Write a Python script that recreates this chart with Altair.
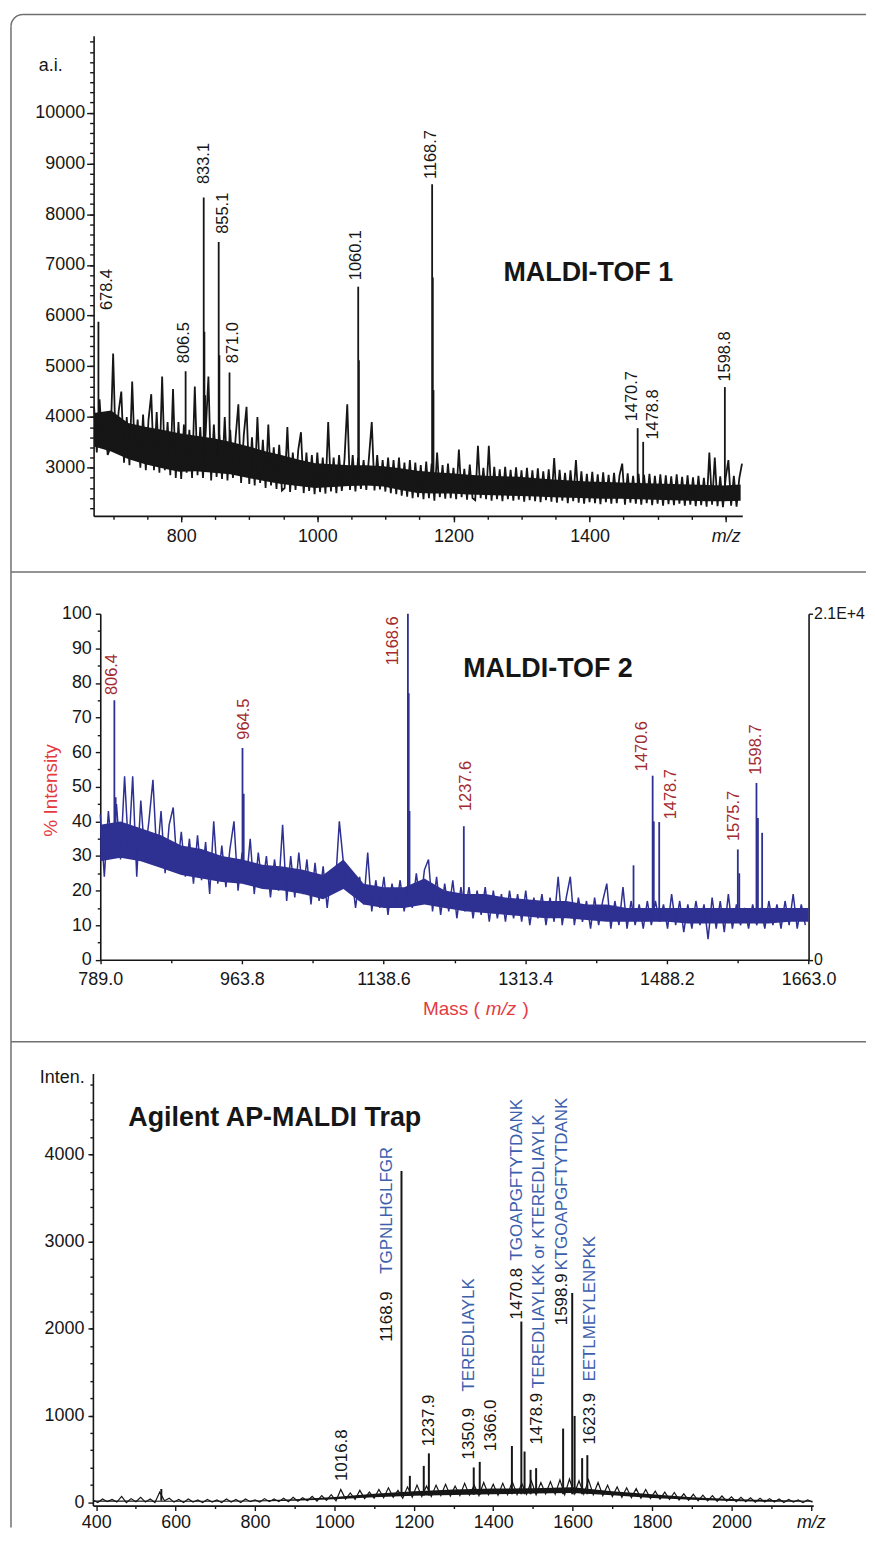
import altair as alt
import pandas as pd

SANS = "Liberation Sans, Arial, sans-serif"
INK = "#161616"
FRAME = "#707070"
NAVY = "#2e3192"
PEAK_RED = "#a32a2d"
TITLE_RED = "#e33b3f"
PEP_BLUE = "#3d60ad"

# ---------------- MALDI-TOF 1 ----------------
p1_mz_start = 672
p1_mz_step = 4
p1_noise = [
    4200, 3300, 4350, 3500, 3900, 3250, 3400, 5250, 3300, 4100,
    4500, 3100, 4000, 3050, 4700, 3150, 3950, 3000, 4050, 2950,
    3950, 4450, 2950, 4100, 2900, 4800, 2950, 3900, 2850, 4550,
    2800, 3900, 2780, 3850, 2900, 3750, 2800, 4600, 2850, 3800,
    2800, 3700, 4800, 2750, 3850, 2820, 3650, 2780, 4000, 2750,
    3750, 2800, 3600, 4250, 2700, 3650, 4200, 2680, 3600, 2650,
    4000, 2700, 3550, 2600, 3850, 2650, 3400, 2580, 3450, 2550,
    2600, 3800, 2520, 3300, 2560, 3350, 3700, 2500, 3300, 2540,
    3250, 2480, 3300, 2520, 3200, 2490, 3900, 2530, 3200, 2500,
    3250, 2540, 3180, 4250, 2560, 3250, 2530, 3200, 2580, 3150,
    2560, 3220, 3900, 2550, 3250, 2570, 3150, 2530, 3200, 2500,
    3150, 2480, 3200, 2450, 3100, 2430, 3150, 2400, 3100, 2420,
    3050, 2380, 3120, 2400, 3080, 2350, 3300, 2420, 3050, 2390,
    3080, 2400, 3000, 2380, 3360, 2420, 2980, 2370, 3060, 2400,
    2360, 3430, 2400, 3000, 2380, 3430, 2350, 3020, 2380, 2970,
    2340, 3020, 2380, 2960, 2350, 3010, 2370, 2950, 2330, 3000,
    2360, 2950, 2340, 2990, 2320, 2930, 2360, 2970, 2330, 3190,
    2310, 2960, 2350, 2900, 2300, 2950, 2340, 3150, 2310, 2930,
    2290, 2880, 2320, 2920, 2300, 2870, 2280, 2910, 2320, 2860,
    2290, 2900, 2300, 2850, 3080, 2270, 2890, 2310, 2840, 2290,
    2880, 2270, 2860, 2300, 2880, 2260, 2840, 2290, 2870, 2250,
    2850, 2280, 2830, 2260, 2870, 2290, 2820, 2250, 2850, 2270,
    2810, 2240, 2840, 2260, 2800, 2230, 3300, 2270, 3200, 2240,
    2830, 2220, 2800, 3150, 2250, 2840, 2230, 2790, 3080,
]
p1_core_mz = [672, 697, 722, 747, 772, 797, 822, 847, 872, 897, 922, 947, 972, 997,
              1022, 1047, 1072, 1097, 1122, 1147, 1172, 1197, 1222, 1247, 1272, 1297,
              1322, 1347, 1372, 1397, 1422, 1447, 1472, 1497, 1522, 1547, 1572, 1597, 1622]
p1_core_hi = [4080, 4130, 3880, 3810, 3750, 3680, 3630, 3580, 3510, 3430, 3330, 3250, 3160,
              3090, 3070, 3050, 3050, 3030, 2990, 2940, 2910, 2890, 2860, 2840, 2830, 2820,
              2790, 2770, 2750, 2730, 2720, 2710, 2700, 2690, 2680, 2670, 2660, 2650, 2670]
p1_core_lo = [3420, 3320, 3170, 3070, 2990, 2920, 2930, 2900, 2870, 2800, 2740, 2680, 2640,
              2600, 2620, 2640, 2650, 2630, 2560, 2500, 2490, 2490, 2470, 2460, 2450, 2440,
              2430, 2420, 2410, 2400, 2390, 2390, 2380, 2370, 2360, 2350, 2340, 2340, 2350]
p1_peak_mz = [678.4, 806.5, 833.1, 834.1, 835.1, 855.1, 856.1, 871.0,
              1060.1, 1061.1, 1168.7, 1169.7, 1170.7, 1470.7, 1478.8, 1598.8]
p1_peak_top = [5880, 4900, 8330, 5680, 4430, 7450, 5220, 4880,
               6570, 5120, 8590, 6750, 4530, 3780, 3510, 4590]
p1_peak_base = [3600, 3200, 3200, 3200, 3200, 3200, 3200, 3100,
                2800, 2800, 2700, 2700, 2700, 2550, 2550, 2500]
p1_label_text = ["678.4", "806.5", "833.1", "855.1", "871.0", "1060.1",
                 "1168.7", "1470.7", "1478.8", "1598.8"]
p1_label_mz = [690.3, 804.0, 833.3, 861.3, 876.0, 1057.5, 1167.2, 1462.3, 1493.0, 1598.7]
p1_label_at = [6108, 5061, 8595, 7613, 5061, 6697, 8693, 3915, 3556, 4700]
p1_x_domain = [671.3, 1624.4]
p1_y_domain = [2050, 11519]
p1_x_ticks = [800, 1000, 1200, 1400, 1600]
p1_x_minor = list(range(700, 1601, 50))
p1_y_ticks = list(range(3000, 10001, 1000))
p1_y_minor = list(range(2200, 11401, 200))

# ---------------- MALDI-TOF 2 ----------------
p2_mz_start = 789
p2_mz_step = 5
p2_noise = [
    42, 24, 43, 30, 45, 29, 53, 31, 53, 24,
    46, 30, 40, 52, 29, 43, 25, 39, 44, 26,
    37, 24, 35, 22, 36, 23, 34, 19, 40, 22,
    33, 21, 32, 40, 20, 31, 22, 35, 19, 31,
    21, 30, 18, 29, 20, 39, 17, 30, 18, 31,
    19, 29, 16, 28, 17, 27, 15, 26, 21, 40,
    28, 20, 25, 15, 24, 16, 31, 14, 23, 15,
    24, 13, 22, 15, 23, 14, 22, 15, 25, 16,
    26, 29, 14, 24, 13, 22, 14, 23, 12, 21,
    14, 21, 12, 20, 13, 21, 11, 20, 12, 19,
    11, 20, 12, 19, 11, 20, 10, 18, 12, 19,
    10, 18, 11, 24, 10, 18, 24, 10, 18, 11,
    17, 9, 18, 10, 17, 22, 9, 17, 10, 21,
    9, 17, 10, 16, 9, 17, 10, 17, 11, 16,
    9, 19, 10, 17, 8, 16, 9, 17, 10, 16,
    6, 18, 9, 17, 8, 19, 9, 16, 10, 15,
    9, 16, 10, 15, 9, 17, 10, 16, 9, 17,
    10, 19, 9, 16, 10,
]
p2_core_mz = [789, 814, 839, 864, 889, 914, 939, 964, 989, 1014, 1039, 1064, 1089, 1114,
              1139, 1164, 1189, 1214, 1239, 1264, 1289, 1314, 1339, 1364, 1389, 1414,
              1439, 1464, 1489, 1514, 1539, 1564, 1589, 1614, 1639, 1663]
p2_core_hi = [39, 40, 38, 36, 33, 32, 30, 29, 27.5, 27, 26, 24.5, 29, 22, 21, 21, 23.5, 20,
              19, 19, 18, 17.5, 17, 17, 16, 16, 15, 15, 15, 15, 15, 15, 15, 15, 15, 15]
p2_core_lo = [28.5, 29.5, 28.5, 26.5, 24.5, 23.5, 22.5, 22, 20.5, 20, 19, 17.5, 20.5, 16,
              15, 15, 16, 15, 14, 13.5, 13, 12.5, 12, 12, 11.5, 11, 11, 11, 11, 10.5, 10.5,
              10.5, 10.5, 10.5, 11, 11]
p2_peak_mz = [806.4, 808.0, 964.5, 966.0, 1168.6, 1169.6, 1170.6, 1237.6, 1447.0,
              1470.6, 1472.0, 1478.7, 1575.7, 1577.5, 1598.7, 1600.5, 1605.7]
p2_peak_top = [75, 47, 61.2, 48, 100, 77, 43, 38.6, 27.3,
               53.2, 40, 39.8, 31.9, 25, 51.1, 41, 36.7]
p2_peak_base = [30, 30, 25, 25, 18, 18, 18, 16, 13,
                12, 12, 12, 11, 11, 11, 11, 11]
p2_label_text = ["806.4", "964.5", "1168.6", "1237.6", "1470.6", "1478.7", "1575.7", "1598.7"]
p2_label_mz = [804.1, 965.9, 1150.1, 1240.1, 1457.1, 1492.8, 1570.9, 1598.4]
p2_label_at = [76.5, 63.6, 85.1, 43.0, 54.5, 40.6, 34.3, 53.5]
p2_x_domain = [789.0, 1663.0]
p2_y_domain = [0, 100]
p2_x_ticks = [789.0, 963.8, 1138.6, 1313.4, 1488.2, 1663.0]
p2_x_minor = [876.4, 1051.2, 1226.0, 1400.8, 1575.6]
p2_y_ticks = list(range(0, 101, 10))
p2_y_minor = list(range(5, 100, 10))
p2_right_ticks = [0, 100]
p2_right_labels = ["0", "2.1E+4"]

# ---------------- Agilent AP-MALDI Trap ----------------
p3_mz_start = 392
p3_mz_step = 12
p3_noise = [
    30, 0, 40, 10, 35, 5, 70, 0, 45, 10,
    60, 5, 40, 0, 120, 20, 50, 5, 35, 0,
    40, 5, 30, 0, 35, 5, 30, 0, 40, 5,
    35, 0, 40, 10, 30, 5, 45, 10, 40, 10,
    50, 10, 60, 15, 55, 20, 70, 15, 80, 25,
    90, 20, 150, 40, 110, 35, 140, 45, 120, 50,
    150, 55, 170, 60, 140, 50, 180, 60, 200, 70,
    190, 70, 200, 80, 210, 75, 190, 80, 220, 85,
    200, 80, 230, 90, 210, 85, 220, 90, 240, 90,
    220, 95, 250, 90, 230, 100, 240, 95, 260, 90,
    270, 100, 250, 95, 260, 90, 230, 80, 200, 70,
    180, 60, 170, 55, 160, 50, 150, 45, 130, 40,
    120, 35, 115, 30, 100, 25, 95, 20, 85, 20,
    80, 15, 75, 15, 65, 10, 60, 10, 55, 5,
    50, 5, 45, 5, 40, 0, 35, 5, 30, 0,
    30, 5,
]
p3_core_mz = [392, 500, 600, 700, 800, 900, 1000, 1100, 1200, 1300, 1400, 1500, 1600,
              1700, 1800, 1900, 2000, 2100, 2204]
p3_core_hi = [22, 22, 20, 20, 24, 38, 65, 100, 130, 150, 160, 165, 175, 130, 95, 62, 40, 28, 20]
p3_core_lo = [8, 8, 8, 8, 12, 20, 38, 60, 78, 88, 95, 105, 110, 85, 52, 32, 18, 8, 8]
p3_peak_mz = [564, 1168.9, 1190, 1225, 1237.9, 1350.9, 1366.0, 1447, 1470.8,
              1478.9, 1494, 1508, 1576, 1598.9, 1605, 1623.9, 1637]
p3_peak_top = [155, 3810, 307, 421, 565, 403, 467, 650, 2080,
               586, 376, 395, 850, 2408, 995, 510, 544]
p3_peak_base = [20, 80, 80, 80, 80, 90, 90, 95, 95,
                95, 95, 95, 95, 95, 95, 95, 95]
p3_label_text = ["1016.8", "1168.9", "1237.9", "1350.9", "1366.0",
                 "1470.8", "1478.9", "1598.9", "1623.9"]
p3_label_mz = [1019.6, 1132.4, 1237.7, 1338.0, 1394.0, 1460.9, 1511.0, 1573.8, 1643.0]
p3_label_at = [247, 1847, 647, 495, 590, 2103, 666, 2038, 666]
p3_pep_text = ["TGPNLHGLFGR", "TEREDLIAYLK", "TGOAPGFTYTDANK",
               "TEREDLIAYLKK or KTEREDLIAYLK", "KTGOAPGFTYTDANK", "EETLMEYLENPKK"]
p3_pep_mz = [1132.4, 1340.0, 1460.9, 1515.0, 1573.8, 1643.0]
p3_pep_at = [2629, 1275, 2781, 1314, 2666, 1390]
p3_x_domain = [391.7, 2206.0]
p3_y_domain = [-35, 4929]
p3_x_ticks = list(range(400, 2201, 200))
p3_x_minor = list(range(500, 2101, 200))
p3_y_ticks = [0, 1000, 2000, 3000, 4000]
p3_y_minor = list(range(200, 4801, 200))

# ---------------- layout: each panel box is its frame cell (page px) ----------------
PX0 = 8
BOX_W = 859
B1 = dict(top=8, h=560, xr=[91, 742.7], yr=[511.7, 29.3])
B2 = dict(top=568, h=472, xr=[97.7, 809.3], yr=[957.7, 610.0])
B3 = dict(top=1040, h=488, xr=[90.3, 814.0], yr=[1506.0, 1072.0])


def geom(b):
    xr = [b["xr"][0] - PX0, b["xr"][1] - PX0]
    yr = [b["yr"][0] - b["top"], b["yr"][1] - b["top"]]
    return xr, yr


def sc(domain, rng):
    return alt.Scale(domain=domain, range=rng, nice=False, zero=False)


def axis(values, orient, tick, offset, labels=True, fmt=None, expr=None, italic_at=None,
         size=18, pad=3, domain=True):
    kw = dict(values=values, orient=orient, tickSize=tick, tickWidth=1.4, tickColor=INK,
              domain=domain, grid=False, title=None, labels=labels, offset=offset)
    if domain:
        kw.update(domainColor=INK, domainWidth=1.6)
    if labels:
        kw.update(labelFont=SANS, labelFontSize=size, labelColor=INK, labelPadding=pad,
                  labelFlush=False, labelOverlap=False)
        if fmt:
            kw["format"] = fmt
        if expr:
            kw["labelExpr"] = expr
        if italic_at is not None:
            kw["labelFontStyle"] = {"condition": {"test": f"datum.value == {italic_at}",
                                                  "value": "italic"}, "value": "normal"}
    return alt.Axis(**kw)


def rule_px(x, y, x2=None, y2=None):
    enc = dict(x=alt.value(x), y=alt.value(y))
    if x2 is not None:
        enc["x2"] = alt.value(x2)
    if y2 is not None:
        enc["y2"] = alt.value(y2)
    return alt.Chart().mark_rule(color=FRAME, strokeWidth=1.5).encode(**enc)


def text_px(txt, x, y, size, color=INK, weight="normal", style="normal",
            align="center", baseline="middle", angle=0):
    return alt.Chart().mark_text(text=txt, font=SANS, fontSize=size, fontWeight=weight,
                                 fontStyle=style, color=color, align=align,
                                 baseline=baseline, angle=angle).encode(
        x=alt.value(x), y=alt.value(y))


def noise_df(start, step, vals):
    return pd.DataFrame({"mz": [start + step * i for i in range(len(vals))], "v": vals})


def spectrum_layers(X, Y, color, noise, core, peaks, labels, axes_main, axes_minor,
                    noise_w, peak_w, label_size, label_color, right_axis=None):
    core_df = pd.DataFrame({"mz": core[0], "hi": core[1], "lo": core[2]})
    layers = [
        alt.Chart(core_df).mark_area(color=color, opacity=1.0, clip=True).encode(
            x=alt.X("mz:Q", scale=X, axis=None), y=alt.Y("lo:Q", scale=Y, axis=None),
            y2="hi:Q"),
        alt.Chart(noise).mark_line(color=color, strokeWidth=noise_w, clip=True).encode(
            x=alt.X("mz:Q", scale=X, axis=axes_main[0]),
            y=alt.Y("v:Q", scale=Y, axis=axes_main[1])),
        alt.Chart(pd.DataFrame({"mz": peaks[0], "top": peaks[1], "base": peaks[2]}))
        .mark_rule(color=color, strokeWidth=peak_w, clip=True).encode(
            x=alt.X("mz:Q", scale=X, axis=axes_minor[0]),
            y=alt.Y("top:Q", scale=Y, axis=axes_minor[1]), y2="base:Q"),
    ]
    for (txt, mz, at), fcol in zip(labels, label_color):
        layers.append(
            alt.Chart(pd.DataFrame({"mz": mz, "at": at, "txt": txt}))
            .mark_text(angle=270, align="left", baseline="middle", font=SANS,
                       fontSize=label_size, color=fcol)
            .encode(x=alt.X("mz:Q", scale=X, axis=None),
                    y=alt.Y("at:Q", scale=Y, axis=right_axis), text="txt:N"))
        right_axis = None
    return layers


# ---------------- panel 1 ----------------
xr, yr = geom(B1)
X1, Y1 = sc(p1_x_domain, xr), sc(p1_y_domain, yr)
off_b, off_l = yr[0] - B1["h"], -xr[0]
T = B1["top"]
p1_layers = [
    alt.Chart().mark_arc(radius=12, radius2=12, theta=4.712389, theta2=6.283185,
                         filled=False, stroke=FRAME, strokeWidth=1.5).encode(
        x=alt.value(12), y=alt.value(12)),
    rule_px(12, 0, x2=BOX_W),
    rule_px(0, 12, y2=B1["h"]),
    rule_px(0, B1["h"], x2=BOX_W),
] + spectrum_layers(
    X1, Y1, INK, noise_df(p1_mz_start, p1_mz_step, p1_noise),
    (p1_core_mz, p1_core_hi, p1_core_lo),
    (p1_peak_mz, p1_peak_top, p1_peak_base),
    [(p1_label_text, p1_label_mz, p1_label_at)],
    (axis(p1_x_ticks, "bottom", 6, off_b, fmt="d", pad=6,
          expr="datum.value == 1600 ? 'm/z' : datum.label", italic_at=1600),
     axis(p1_y_ticks, "left", 7, off_l, fmt="d", pad=2)),
    (axis(p1_x_minor, "bottom", 3.5, off_b, labels=False, domain=False),
     axis(p1_y_minor, "left", 4, off_l, labels=False, domain=False)),
    1.8, 1.8, 16.5, [INK],
) + [
    text_px("a.i.", 48 - PX0, 60 - T, 18),
    text_px("MALDI-TOF 1", 588 - PX0, 276 - T, 27, weight="bold", baseline="alphabetic"),
]
panel1 = alt.layer(*p1_layers).resolve_axis(x="independent", y="independent").properties(
    width=BOX_W, height=B1["h"])

# ---------------- panel 2 ----------------
xr, yr = geom(B2)
X2, Y2 = sc(p2_x_domain, xr), sc(p2_y_domain, yr)
off_b, off_l, off_r = yr[0] - B2["h"], -xr[0], xr[1] - BOX_W
T = B2["top"]
right_expr = " : ".join(
    [f"datum.value == {v} ? '{t}'" for v, t in zip(p2_right_ticks[:-1], p2_right_labels[:-1])]
    + [f"'{p2_right_labels[-1]}'"])
p2_layers = [
    rule_px(0, 0, y2=B2["h"]),
    rule_px(0, B2["h"], x2=BOX_W),
] + spectrum_layers(
    X2, Y2, NAVY, noise_df(p2_mz_start, p2_mz_step, p2_noise),
    (p2_core_mz, p2_core_hi, p2_core_lo),
    (p2_peak_mz, p2_peak_top, p2_peak_base),
    [(p2_label_text, p2_label_mz, p2_label_at)],
    (axis(p2_x_ticks, "bottom", 4, off_b, fmt=".1f", pad=7),
     axis(p2_y_ticks, "left", 5, off_l, fmt="d", pad=4)),
    (axis(p2_x_minor, "bottom", 3, off_b, labels=False, domain=False),
     axis(p2_y_minor, "left", 3, off_l, labels=False, domain=False)),
    1.5, 1.8, 16.5, [PEAK_RED],
    right_axis=axis(p2_right_ticks, "right", 4, off_r, expr=right_expr, pad=1, size=16),
) + [
    text_px("MALDI-TOF 2", 547.5 - PX0, 673.3 - T, 27, weight="bold", baseline="alphabetic"),
    text_px("% Intensity", 48 - PX0, 787.5 - T, 19, color=TITLE_RED, angle=270),
    text_px("Mass (", 479 - PX0, 1013 - T, 19, color=TITLE_RED, align="right",
            baseline="alphabetic"),
    text_px("m/z", 485 - PX0, 1013 - T, 19, color=TITLE_RED, style="italic", align="left",
            baseline="alphabetic"),
    text_px(")", 522 - PX0, 1013 - T, 19, color=TITLE_RED, align="left", baseline="alphabetic"),
]
panel2 = alt.layer(*p2_layers).resolve_axis(x="independent", y="independent").properties(
    width=BOX_W, height=B2["h"])

# ---------------- panel 3 ----------------
xr, yr = geom(B3)
X3, Y3 = sc(p3_x_domain, xr), sc(p3_y_domain, yr)
off_b, off_l = yr[0] - B3["h"], -xr[0]
T = B3["top"]
p3_layers = [
    rule_px(0, 0, y2=B3["h"]),
] + spectrum_layers(
    X3, Y3, INK, noise_df(p3_mz_start, p3_mz_step, p3_noise),
    (p3_core_mz, p3_core_hi, p3_core_lo),
    (p3_peak_mz, p3_peak_top, p3_peak_base),
    [(p3_label_text, p3_label_mz, p3_label_at), (p3_pep_text, p3_pep_mz, p3_pep_at)],
    (axis(p3_x_ticks, "bottom", 5, off_b, fmt="d", pad=3,
          expr="datum.value == 2200 ? 'm/z' : datum.label", italic_at=2200),
     axis(p3_y_ticks, "left", 5, off_l, fmt="d", pad=4)),
    (axis(p3_x_minor, "bottom", 3, off_b, labels=False, domain=False),
     axis(p3_y_minor, "left", 3, off_l, labels=False, domain=False)),
    1.2, 2.0, 17, [INK, PEP_BLUE],
) + [
    text_px("Inten.", 82 - PX0, 1076 - T, 18, align="right"),
    text_px("Agilent AP-MALDI Trap", 273 - PX0, 1125 - T, 27, weight="bold",
            baseline="alphabetic"),
]
panel3 = alt.layer(*p3_layers).resolve_axis(x="independent", y="independent").properties(
    width=BOX_W, height=B3["h"])

chart = alt.vconcat(panel1, panel2, panel3, spacing=0, bounds="flush").properties(
    padding=0, background="white").configure_view(stroke=None)

chart.save("out.html", embed_options={"renderer": "svg", "actions": False})
